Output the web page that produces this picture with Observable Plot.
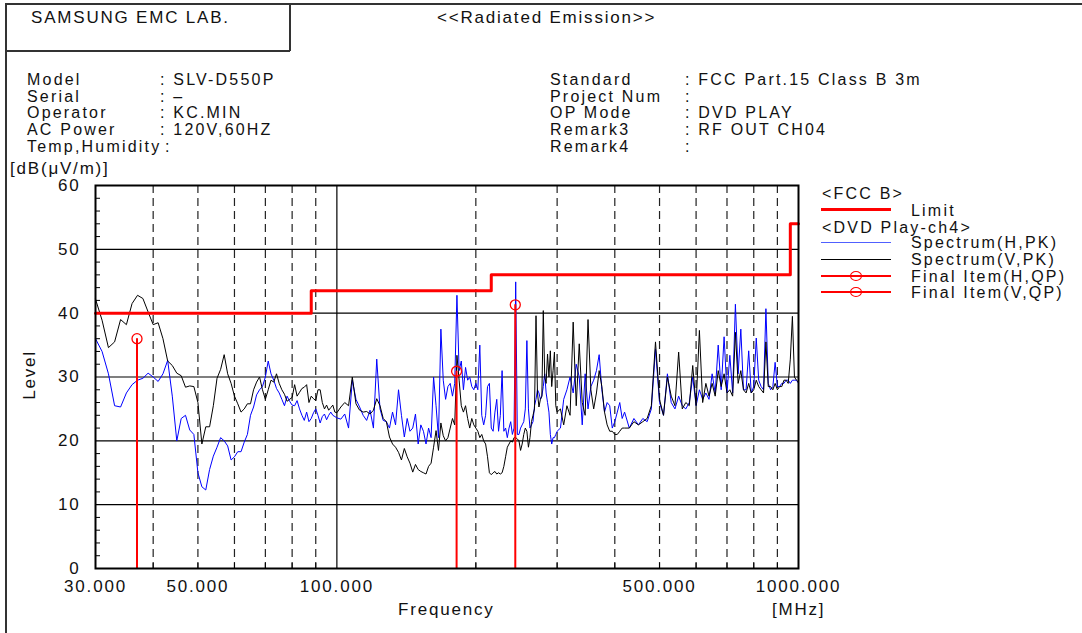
<!DOCTYPE html>
<html><head><meta charset="utf-8">
<script src="https://cdn.jsdelivr.net/npm/d3@7"></script>
<script src="https://cdn.jsdelivr.net/npm/@observablehq/plot@0.6"></script>
<style>
body{margin:0;background:#fff;}
#wrap{position:relative;width:1082px;height:633px;overflow:hidden;font-family:"Liberation Sans",Arial,sans-serif;font-size:17px;letter-spacing:1.8px;color:#111;background:#fff;}
#wrap svg{position:absolute;left:0;top:0;}
.t{position:absolute;white-space:nowrap;line-height:16px;height:16px;}
.s{font-size:16px;letter-spacing:2.2px;line-height:15px;height:15px;}
.ln{position:absolute;}
</style></head><body><div id="wrap"></div>
<script>
// ---- header text ----
const titleLeft = "SAMSUNG EMC LAB.";
const titleCenter = "<<Radiated Emission>>";
const infoLabelsL = ["Model","Serial","Operator","AC Power","Temp,Humidity"];
const infoValuesL = [": SLV-D550P",": \u2013",": KC.MIN",": 120V,60HZ",":"];
const infoLabelsR = ["Standard","Project Num","OP Mode","Remark3","Remark4"];
const infoValuesR = [": FCC Part.15 Class B 3m",":",": DVD PLAY",": RF OUT CH04",":"];
const legendGroups = ["<FCC B>","<DVD Play-ch4>"];
const legendLabels = ["Limit","Spectrum(H,PK)","Spectrum(V,PK)","Final Item(H,QP)","Final Item(V,QP)"];

// ---- axes ----
const xTicks = [30,50,100,500,1000];
const yTicks = [0,10,20,30,40,50,60];
const gridY = [10,20,30,40,50];
const dashF = [40,50,60,70,80,90,200,300,400,500,600,700,800,900];
const minorY = [2,4,6,8,12,14,16,18,22,24,26,28,32,34,36,38,42,44,46,48,52,54,56,58];

// ---- FCC Class B limit (MHz, dB) ----
const limitF = [30,88,216,960,1000];
const limitV = [40,43.5,46,54,54];

// ---- spectrum sample frequencies (MHz) ----
const f1 = d3.range(30,101,1);     // 30..100
const f2 = d3.range(102,301,2);    // 102..300
const f3 = d3.range(305,421,5);    // 305..420
const f4 = d3.range(430,1001,10);  // 430..1000

// ---- Spectrum(H,PK) ----
const h1 = [36.0,34.0,30.5,25.5,25.3,27.5,28.8,29.5,29.8,30.6,30.0,29.3,30.5,32.6,27.0,20.0,23.5,24.0,21.7,21.0,
15.0,12.8,12.3,15.5,17.6,19.0,20.5,20.0,19.2,17.0,17.5,18.3,18.3,19.8,21.0,24.0,25.3,27.2,28.0,28.5,
30.0,32.5,30.5,29.5,28.2,27.5,26.5,25.5,27.0,26.2,25.6,25.5,26.3,25.0,24.0,23.2,24.5,23.0,23.5,24.4,
25.0,24.0,22.8,23.8,24.2,23.3,24.0,24.5,24.0,23.8,23.6];
const h2 = [23.4,24.2,22.0,29.5,26.5,25.3,24.0,23.2,24.8,22.0,32.8,25.0,23.2,23.0,22.0,24.5,22.5,28.0,24.0,20.6,
23.5,21.5,22.0,24.2,19.5,22.5,21.5,19.5,22.0,20.5,30.0,25.5,20.5,37.5,29.5,26.5,28.5,29.0,27.0,29.0,
42.8,31.0,32.5,28.0,31.5,29.5,30.0,28.5,28.0,29.0,28.0,35.0,24.0,22.5,24.0,28.5,29.0,22.0,21.5,24.5,
26.5,21.5,24.0,31.0,21.5,22.0,20.5,22.0,23.0,21.0,22.0,44.9,21.0,21.0,22.0,22.5,23.0,25.0,35.7,25.0,
22.0,22.5,23.0,25.5,26.5,28.0,27.5,26.5,27.0,28.5,30.5,27.5,26.0,24.5,21.0,19.5,20.5,20.5,21.0,21.5];
const h3 = [22.0,26.5,28.0,30.0,27.5,32.0,30.0,22.5,30.5,25.0,28.5,29.5,31.0,33.5,28.0,24.5,26.0,25.5,22.0,23.0,
24.5,26.0,23.5,24.5];
const h4 = [22.0,23.5,22.5,23.5,23.0,25.0,34.4,26.0,24.0,30.5,26.0,25.0,27.0,25.5,25.0,26.0,30.0,25.5,28.0,26.5,
27.5,26.5,30.5,27.5,35.0,28.0,36.3,27.5,33.4,27.5,41.4,30.5,37.5,28.0,28.0,34.1,27.5,28.5,36.1,29.5,
28.5,28.0,40.7,29.0,28.0,28.5,32.3,28.5,28.5,29.0,29.0,29.5,29.5,29.0,29.5,29.5,29.5,29.0];

// ---- Spectrum(V,PK) ----
const v1 = [42.2,38.9,34.6,35.5,39.0,38.2,41.5,42.8,42.3,40.2,38.2,38.5,36.0,32.5,31.8,30.6,30.2,28.4,28.6,28.5,
26.0,19.5,22.2,22.2,25.5,29.8,31.2,33.5,30.5,29.0,27.0,25.8,24.5,25.0,25.8,25.8,28.0,29.2,30.0,28.0,
26.5,28.0,29.5,29.2,30.5,29.0,28.0,27.3,26.2,26.5,26.8,28.8,27.0,27.6,28.2,28.4,28.8,26.0,27.0,26.6,
26.3,28.0,28.0,26.0,25.0,25.6,24.8,25.2,25.6,24.5,24.4];
const v2 = [25.3,26.0,25.5,30.0,25.8,24.8,24.5,24.6,24.2,24.8,26.6,25.5,23.5,23.0,20.6,19.5,19.0,18.2,17.0,18.8,
17.5,16.5,15.1,16.3,15.5,15.2,15.0,14.8,16.0,16.5,19.0,21.6,18.5,22.8,20.8,20.0,20.5,22.0,23.5,22.5,
33.4,29.5,25.5,24.5,25.5,23.5,22.0,23.5,22.5,22.0,21.5,20.5,21.0,20.0,19.5,17.5,15.0,14.7,15.0,15.2,
14.8,15.0,14.8,15.0,16.0,17.5,19.0,19.5,20.0,19.8,20.5,20.5,20.3,20.0,18.5,19.5,21.0,22.0,21.5,19.0,
20.5,23.0,24.0,25.0,39.6,27.5,25.3,26.5,27.0,40.4,30.0,29.0,33.6,30.0,34.1,28.5,31.0,33.9,25.5,24.5];
const v3 = [25.0,22.5,25.5,24.0,38.6,25.5,35.2,26.0,24.0,39.0,28.0,25.0,27.5,31.0,28.5,24.5,22.5,21.5,21.5,21.0,
21.0,21.5,22.0,22.0];
const v4 = [22.0,23.0,22.5,23.0,23.5,25.5,35.5,26.5,24.0,30.0,27.0,25.5,33.9,25.0,26.0,25.5,31.8,25.5,37.3,26.0,
29.0,27.0,29.0,27.0,31.0,28.5,30.5,27.5,28.0,27.0,37.0,29.0,31.0,28.0,27.5,29.0,27.5,28.0,29.5,28.5,
28.0,27.5,35.5,28.5,28.5,28.0,29.0,28.0,28.5,28.5,29.5,29.5,29.0,32.8,39.5,30.0,29.5,29.2];

// ---- Final items (QP) ----
const qpHF = [181.7,243.5];
const qpHV = [30.9,41.3];
const qpVF = [36.9];
const qpVV = [36.0];

// ---- build tables ----
const freqs = [...f1,...f2,...f3,...f4];
const hv = [...h1,...h2,...h3,...h4];
const vv = [...v1,...v2,...v3,...v4];
const specH = freqs.map((f,i)=>({f, v: hv[i]}));
const specV = freqs.map((f,i)=>({f, v: vv[i]}));
const limit = limitF.map((f,i)=>({f, v: limitV[i]}));
const qp = [...qpHF.map((f,i)=>({f, v: qpHV[i], pol:"H"})), ...qpVF.map((f,i)=>({f, v: qpVV[i], pol:"V"}))];

const chart = Plot.plot({
  width:1082, height:633,
  marginLeft:95, marginRight:284, marginTop:185, marginBottom:65,
  x:{type:"log", domain:[30,1000]},
  y:{domain:[0,60]},
  style:{fontFamily:"Liberation Sans, Arial, sans-serif", fontSize:"17px", letterSpacing:"1.8px", color:"#111", background:"transparent", overflow:"visible"},
  marks:[
    Plot.ruleY(gridY,{stroke:"#000",strokeWidth:1.2}),
    Plot.ruleX(dashF,{stroke:"#222",strokeDasharray:"8,5",strokeWidth:1.2}),
    Plot.ruleX([100],{stroke:"#000",strokeWidth:1.2}),
    Plot.tickY(minorY,{y:d=>d, insetRight:698, stroke:"#000"}),
    Plot.tickX(dashF,{x:d=>d, insetTop:378, stroke:"#000"}),
    Plot.line(specH,{x:"f",y:"v",stroke:"#0000ff",strokeWidth:1}),
    Plot.line(specV,{x:"f",y:"v",stroke:"#000",strokeWidth:1}),
    Plot.line(limit,{x:"f",y:"v",curve:"step-after",stroke:"#ff0000",strokeWidth:3}),
    Plot.ruleX(qp,{x:"f",y1:0,y2:"v",stroke:"#ff0000",strokeWidth:2}),
    Plot.dot(qp,{x:"f",y:"v",r:5,stroke:"#ff0000",fill:"none",strokeWidth:1.3}),
    Plot.frame({stroke:"#000",strokeWidth:2}),
    Plot.axisX(xTicks,{tickSize:0,tickPadding:11,tickFormat:d3.format(".3f"),label:null}),
    Plot.axisY(yTicks,{tickSize:0,tickPadding:15,label:null})
  ]
});
const wrap = document.getElementById("wrap");
wrap.appendChild(chart);

function txt(s,x,cy,extra,small){
  const d=document.createElement("div");
  d.className = small ? "t s" : "t"; d.textContent=s;
  d.style.left=x+"px"; d.style.top=(cy-(small?7.5:8))+"px";
  if(extra) Object.assign(d.style,extra);
  wrap.appendChild(d); return d;
}
function line(x,y,w,h,c){
  const d=document.createElement("div");
  d.className="ln"; d.style.left=x+"px"; d.style.top=y+"px";
  d.style.width=w+"px"; d.style.height=h+"px"; d.style.background=c;
  wrap.appendChild(d);
}
// page frame
line(5,3,1077,1.5,"#333");
line(5,3,1.5,630,"#333");
line(289,3,1.5,48,"#333");
line(5,50,285,1.5,"#333");

txt(titleLeft,31,18);
txt(titleCenter,437,18);
const rowY=[79,96,112,129,146];
rowY.forEach((y,i)=>{
  txt(infoLabelsL[i],27,y,null,true);
  txt(infoValuesL[i], i===4 ? 165 : 160, y,null,true);
  txt(infoLabelsR[i],550,y,null,true); txt(infoValuesR[i],685,y,null,true);
});
txt("[dB(\u03bcV/m)]",10,169);
txt("Level",30,375,{transform:"translate(-50%,0) rotate(-90deg)",transformOrigin:"50% 50%"});
txt("Frequency",398,610);
txt("[MHz]",772,610);

// legend
txt(legendGroups[0],822,193,null,true);
line(821,208,70,3,"#ff0000"); txt(legendLabels[0],911,210,null,true);
txt(legendGroups[1],822,227,null,true);
line(821,242,70,1.3,"#5060ff"); txt(legendLabels[1],911,242,null,true);
line(821,259,70,1.3,"#000"); txt(legendLabels[2],911,259,null,true);
[276,292].forEach((y,i)=>{
  line(821,y-1,70,2,"#ff0000");
  const c=document.createElement("div");
  Object.assign(c.style,{position:"absolute",left:(856-6)+"px",top:(y-5)+"px",width:"10px",height:"8px",border:"1.3px solid #ff0000",borderRadius:"50%",background:"transparent"});
  wrap.appendChild(c);
  txt(legendLabels[3+i],911,y,null,true);
});
</script>
</body></html>
